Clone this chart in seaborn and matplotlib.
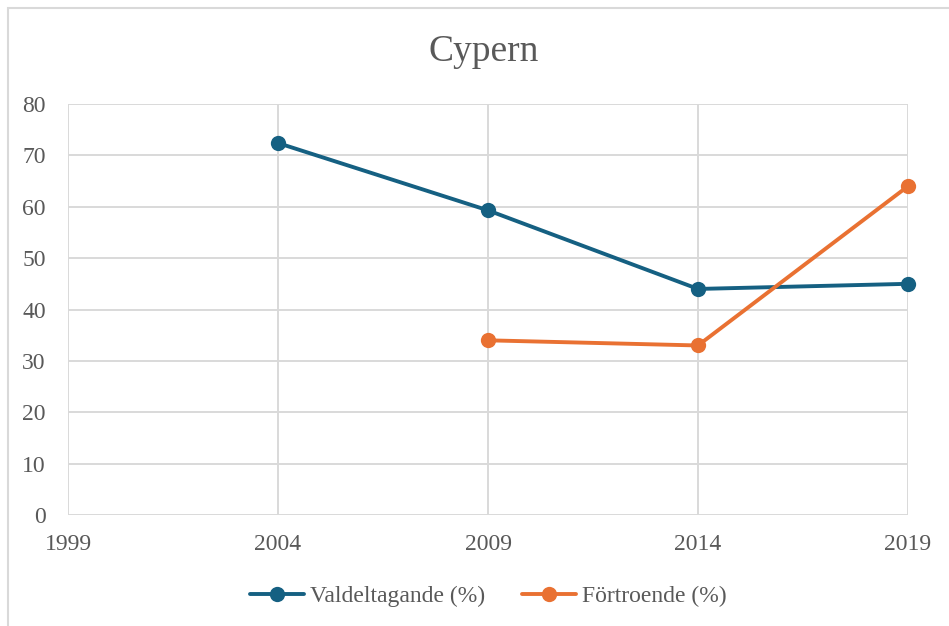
import numpy as np
import pandas as pd
import matplotlib
matplotlib.use("Agg")
import matplotlib.pyplot as plt
import seaborn as sns
from matplotlib.patches import Rectangle

years_turnout = [2004, 2009, 2014, 2019]
turnout = [72.4, 59.3, 44.0, 45.0]
years_trust = [2009, 2014, 2019]
trust = [34.0, 33.0, 64.0]
x_ticks = [1999, 2004, 2009, 2014, 2019]
series_names = ["Valdeltagande (%)", "Förtroende (%)"]

df = pd.concat([
    pd.DataFrame({"År": years_turnout, "Värde": turnout, "Serie": series_names[0]}),
    pd.DataFrame({"År": years_trust, "Värde": trust, "Serie": series_names[1]}),
])

sns.set_theme(style="white")
plt.rcParams['font.family'] = ['Liberation Serif', 'DejaVu Serif']
grey = "#595959"

fig = plt.figure(figsize=(9.49, 6.26), dpi=100)
ax = fig.add_axes([68/949, 1-515/626, (908-68)/949, (515-104)/626])

palette = {series_names[0]: "#156082", series_names[1]: "#E97132"}
sns.lineplot(data=df, x="År", y="Värde", hue="Serie", palette=palette,
             marker="o", markersize=11, markeredgewidth=0, linewidth=2.8, ax=ax,
             clip_on=False)

ax.set_xlim(1999, 2019)
ax.set_ylim(0, 80)
ax.set_xticks(x_ticks)
ax.set_yticks(range(0, 81, 10))
ax.grid(True, color="#D9D9D9", linewidth=1.4)
ax.set_axisbelow(True)
for s in ax.spines.values():
    s.set_visible(False)
ax.tick_params(axis="both", length=0, labelsize=17, labelcolor=grey)
ax.tick_params(axis="y", pad=16)
ax.tick_params(axis="x", pad=14)
ax.set_xlabel("")
ax.set_ylabel("")

fig.text(484/949, 1-52/626, "Cypern", ha="center", va="center", fontsize=27, color=grey)

ax.legend(loc="upper center", bbox_to_anchor=(0.5, -0.12), ncol=2, frameon=False,
          fontsize=17, labelcolor=grey, handlelength=2.3, columnspacing=1.55,
          handletextpad=0.25)

fig.patches.append(Rectangle((8/949, -0.1), 1.2, 1 - 8/626 + 0.1, transform=fig.transFigure,
                             fill=False, edgecolor="#D9D9D9", linewidth=1.5))

fig.savefig("out.png", dpi=100)
